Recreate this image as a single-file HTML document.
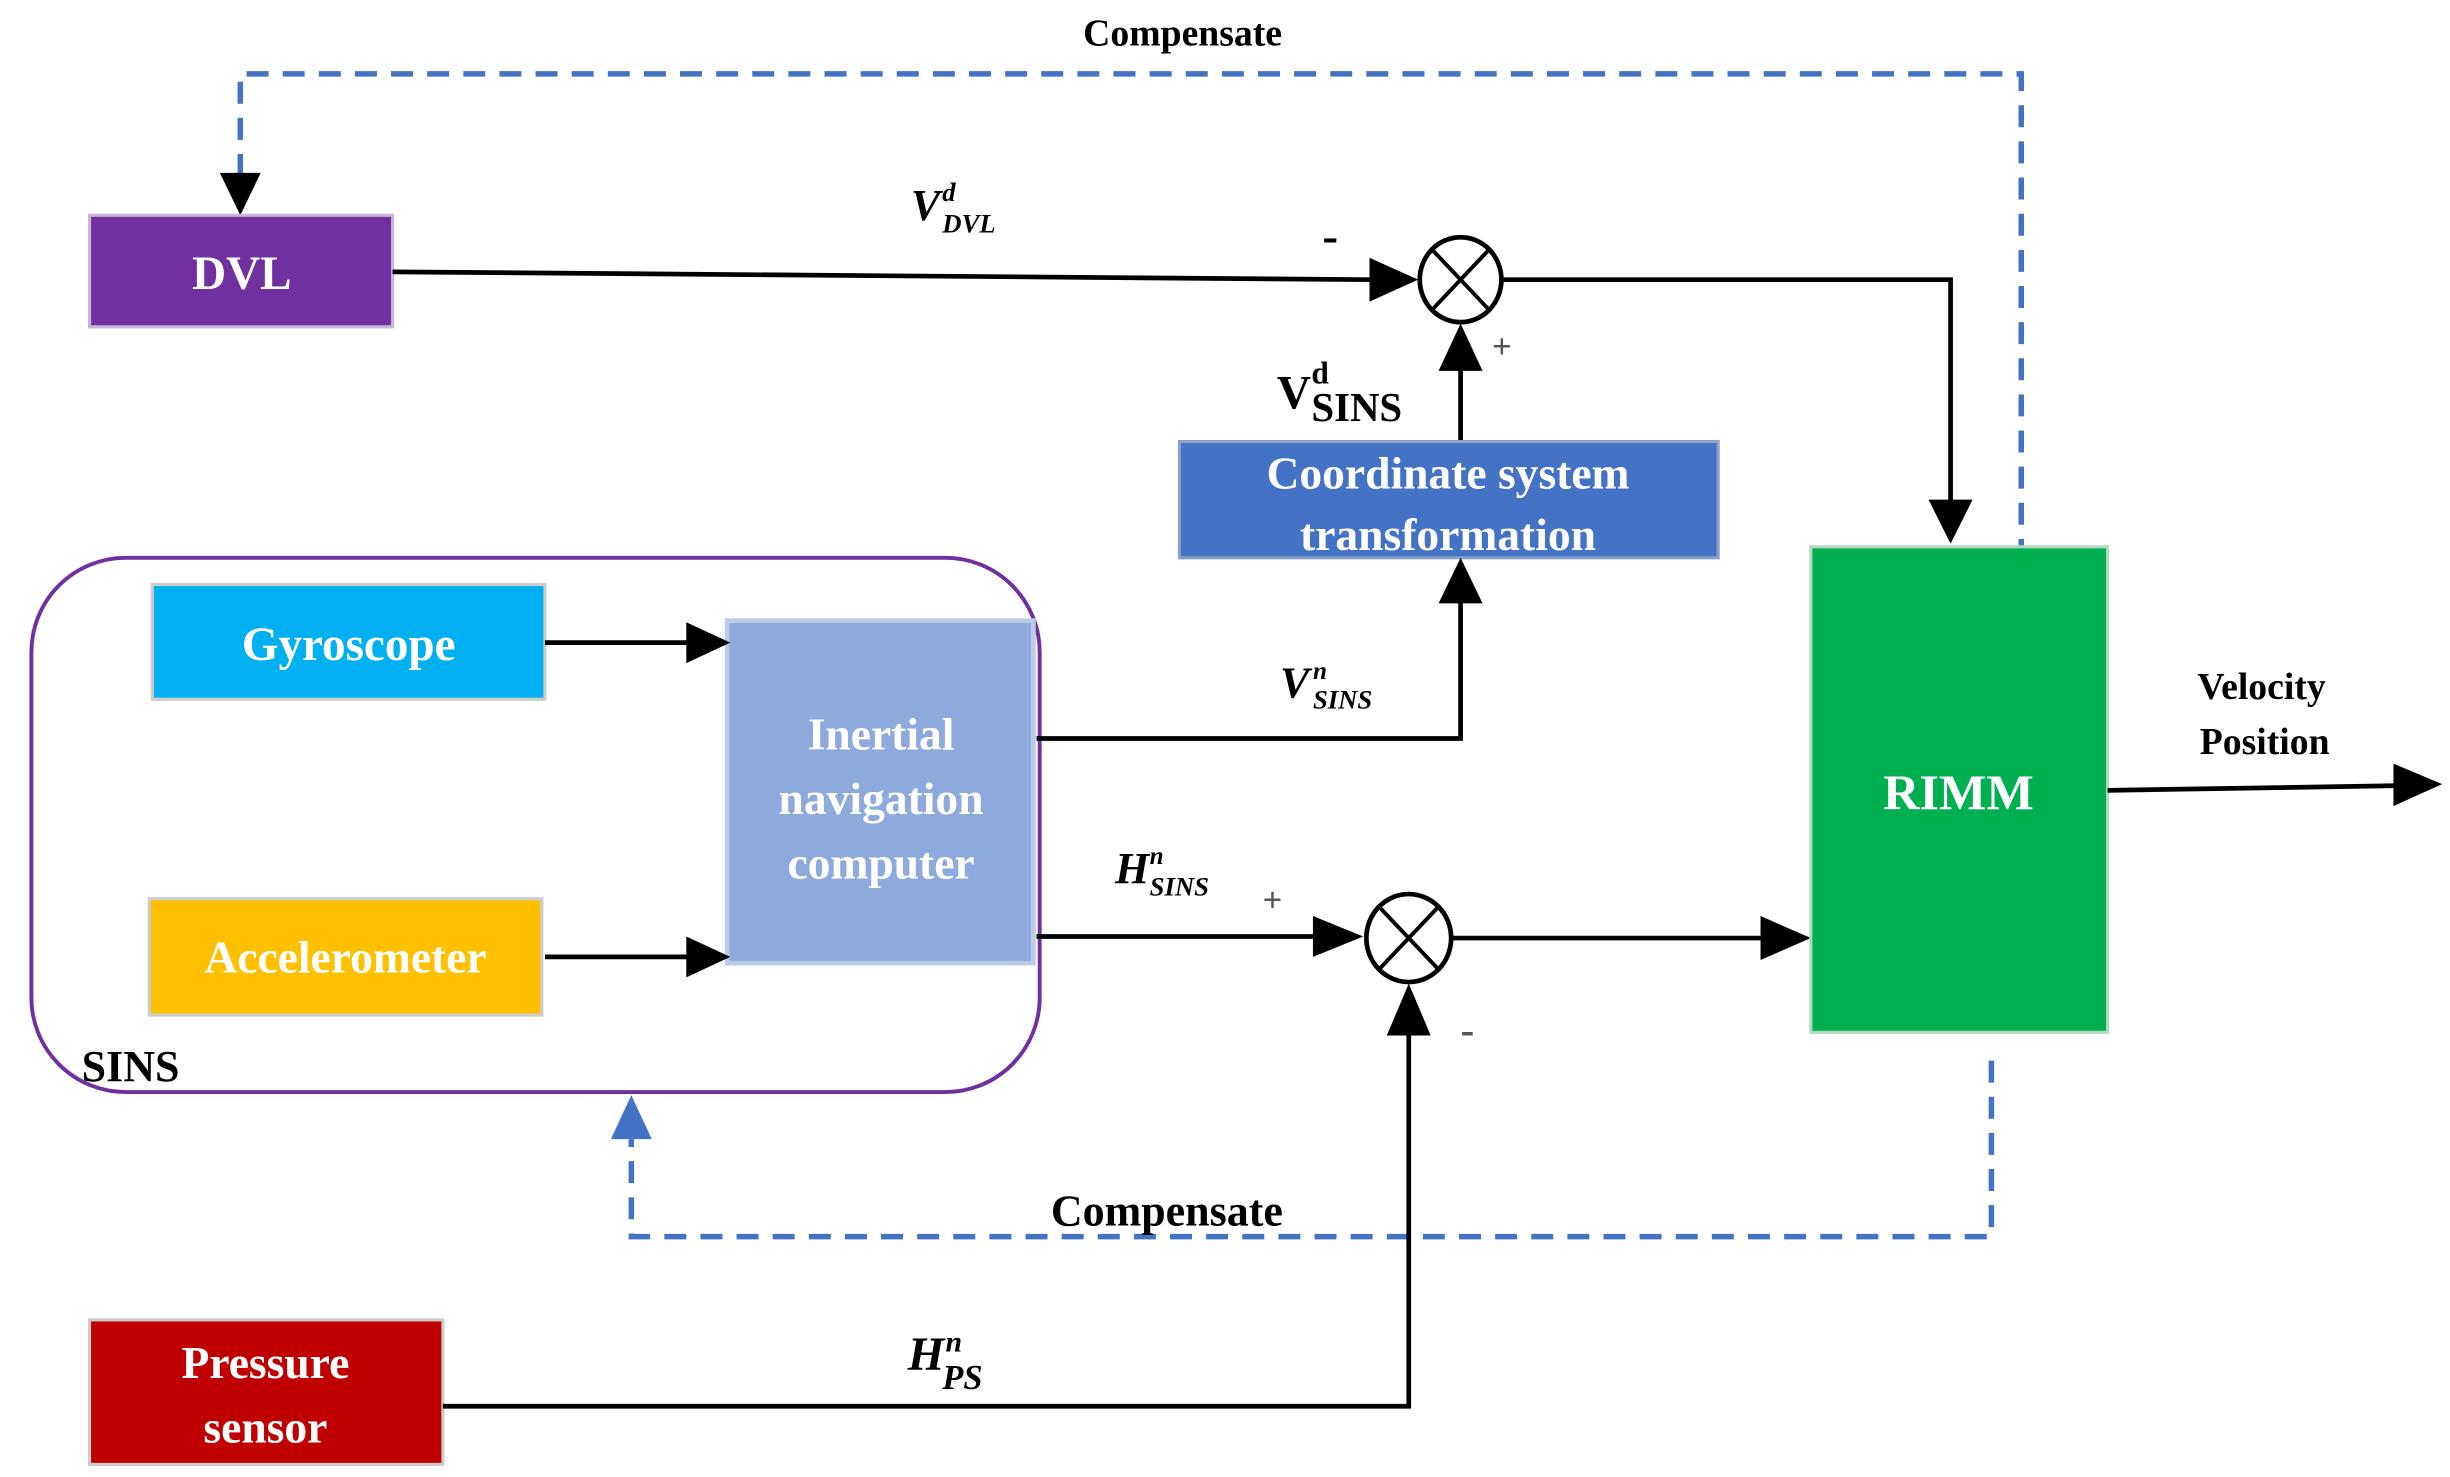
<!DOCTYPE html>
<html><head><meta charset="utf-8"><style>
html,body{margin:0;padding:0;background:#fff;}
svg{display:block;}
text{font-family:"Liberation Serif",serif;font-weight:bold;}
</style></head><body>
<svg width="2450" height="1477" viewBox="0 0 1560 940" preserveAspectRatio="none" xmlns="http://www.w3.org/2000/svg">
<defs>
<marker id="a" markerWidth="10" markerHeight="10" refX="9" refY="5" orient="auto" markerUnits="userSpaceOnUse" viewBox="0 0 10 10"><path d="M0,0 L10,5 L0,10 z" fill="#000"/></marker>
</defs>
<!-- top dashed compensate -->
<path d="M153,112 L153,47 L1287,47 L1287,348" fill="none" stroke="#4472C4" stroke-width="3.5" stroke-dasharray="14,9"/>
<path d="M140,110 L166,110 L153,137 z" fill="#000"/>
<text x="753" y="29" font-size="24" text-anchor="middle">Compensate</text>
<!-- DVL -->
<rect x="57" y="137" width="193" height="71" fill="#7030A0" stroke="#c9b6d8" stroke-width="2"/>
<text x="154" y="184" font-size="30" fill="#fff" text-anchor="middle">DVL</text>
<line x1="250" y1="173" x2="875" y2="178" stroke="#000" stroke-width="3"/>
<path d="M872,164 L903,178 L872,192 z" fill="#000"/>
<text x="580" y="140" font-size="28" font-style="italic">V</text>
<text x="600" y="128" font-size="17" font-style="italic">d</text>
<text x="600" y="148" font-size="17" font-style="italic">DVL</text>
<text x="842" y="160" font-size="30">-</text>
<!-- sum1 -->
<ellipse cx="930" cy="178" rx="26" ry="27" fill="#fff" stroke="#000" stroke-width="3"/>
<line x1="912" y1="159" x2="948" y2="197" stroke="#000" stroke-width="2.5"/>
<line x1="948" y1="159" x2="912" y2="197" stroke="#000" stroke-width="2.5"/>
<path d="M956,178 L1242,178 L1242,320" fill="none" stroke="#000" stroke-width="3"/>
<path d="M1228,318 L1256,318 L1242,346 z" fill="#000"/>
<text x="950" y="228" font-size="22" font-weight="normal" fill="#555">+</text>
<!-- coord -->
<line x1="930" y1="281" x2="930" y2="230" stroke="#000" stroke-width="3"/>
<path d="M916,236 L944,236 L930,206 z" fill="#000"/>
<text x="813" y="260" font-size="30">V</text>
<text x="835" y="244" font-size="20">d</text>
<text x="835" y="268" font-size="26">SINS</text>
<rect x="751" y="281" width="343" height="74" fill="#4472C4" stroke="#8aa0c8" stroke-width="2"/>
<text x="922" y="311" font-size="29" fill="#fff" text-anchor="middle">Coordinate system</text>
<text x="922" y="350" font-size="29" fill="#fff" text-anchor="middle">transformation</text>
<!-- SINS group -->
<rect x="20" y="355" width="642" height="340" rx="60" fill="none" stroke="#7030A0" stroke-width="2.5"/>
<text x="52" y="688" font-size="28">SINS</text>
<rect x="97" y="372" width="250" height="73" fill="#00B0F0" stroke="#ccc" stroke-width="2"/>
<text x="222" y="420" font-size="30" fill="#fff" text-anchor="middle">Gyroscope</text>
<rect x="95" y="572" width="250" height="74" fill="#FFC000" stroke="#ccc" stroke-width="2"/>
<text x="220" y="619" font-size="29" fill="#fff" text-anchor="middle">Accelerometer</text>
<rect x="463" y="395" width="195" height="218" fill="#8EA9DB" stroke="#bccbe6" stroke-width="3"/>
<text x="561" y="477" font-size="29" fill="#fff" text-anchor="middle">Inertial</text>
<text x="561" y="518" font-size="29" fill="#fff" text-anchor="middle">navigation</text>
<text x="561" y="559" font-size="29" fill="#fff" text-anchor="middle">computer</text>
<line x1="347" y1="409" x2="440" y2="409" stroke="#000" stroke-width="3"/>
<path d="M437,396 L465,409 L437,422 z" fill="#000"/>
<line x1="347" y1="609" x2="440" y2="609" stroke="#000" stroke-width="3"/>
<path d="M437,596 L465,609 L437,622 z" fill="#000"/>
<!-- INC to coord -->
<path d="M660,470 L930,470 L930,380" fill="none" stroke="#000" stroke-width="3"/>
<path d="M916,384 L944,384 L930,355 z" fill="#000"/>
<text x="815" y="444" font-size="28" font-style="italic">V</text>
<text x="836" y="432" font-size="16" font-style="italic">n</text>
<text x="836" y="451" font-size="17" font-style="italic">SINS</text>
<!-- INC to sum2 -->
<line x1="660" y1="596" x2="840" y2="596" stroke="#000" stroke-width="3"/>
<path d="M836,583 L868,596 L836,609 z" fill="#000"/>
<text x="710" y="562" font-size="28" font-style="italic">H</text>
<text x="732" y="550" font-size="16" font-style="italic">n</text>
<text x="732" y="570" font-size="17" font-style="italic">SINS</text>
<text x="804" y="580" font-size="22" font-weight="normal" fill="#555">+</text>
<ellipse cx="897" cy="597" rx="27" ry="28" fill="#fff" stroke="#000" stroke-width="3"/>
<line x1="878" y1="577" x2="916" y2="617" stroke="#000" stroke-width="2.5"/>
<line x1="916" y1="577" x2="878" y2="617" stroke="#000" stroke-width="2.5"/>
<line x1="924" y1="597" x2="1125" y2="597" stroke="#000" stroke-width="3"/>
<path d="M1121,583 L1153,597 L1121,611 z" fill="#000"/>
<text x="930" y="664" font-size="26" font-weight="normal" fill="#555">-</text>
<!-- RIMM -->
<rect x="1153" y="348" width="189" height="309" fill="#00B050" stroke="#b5d8bf" stroke-width="2"/>
<text x="1247" y="515" font-size="32" fill="#fff" text-anchor="middle">RIMM</text>
<line x1="1342" y1="503" x2="1528" y2="500" stroke="#000" stroke-width="3"/>
<path d="M1524,486 L1555,499 L1524,513 z" fill="#000"/>
<text x="1440" y="445" font-size="24" text-anchor="middle">Velocity</text>
<text x="1442" y="480" font-size="24" text-anchor="middle">Position</text>
<!-- bottom dashed -->
<path d="M1268,675 L1268,787 L402,787 L402,725" fill="none" stroke="#4472C4" stroke-width="3.5" stroke-dasharray="14,9"/>
<path d="M389,725 L415,725 L402,697 z" fill="#4472C4"/>
<text x="743" y="780" font-size="28" text-anchor="middle">Compensate</text>
<!-- Pressure -->
<rect x="57" y="840" width="225" height="92" fill="#C00000" stroke="#ccc" stroke-width="2"/>
<text x="169" y="877" font-size="29" fill="#fff" text-anchor="middle">Pressure</text>
<text x="169" y="918" font-size="29" fill="#fff" text-anchor="middle">sensor</text>
<path d="M282,895 L897,895 L897,655" fill="none" stroke="#000" stroke-width="3"/>
<path d="M883,659 L911,659 L897,626 z" fill="#000"/>
<text x="578" y="872" font-size="30" font-style="italic">H</text>
<text x="602" y="860" font-size="19" font-style="italic">n</text>
<text x="600" y="884" font-size="22" font-style="italic">PS</text>
</svg>
</body></html>
